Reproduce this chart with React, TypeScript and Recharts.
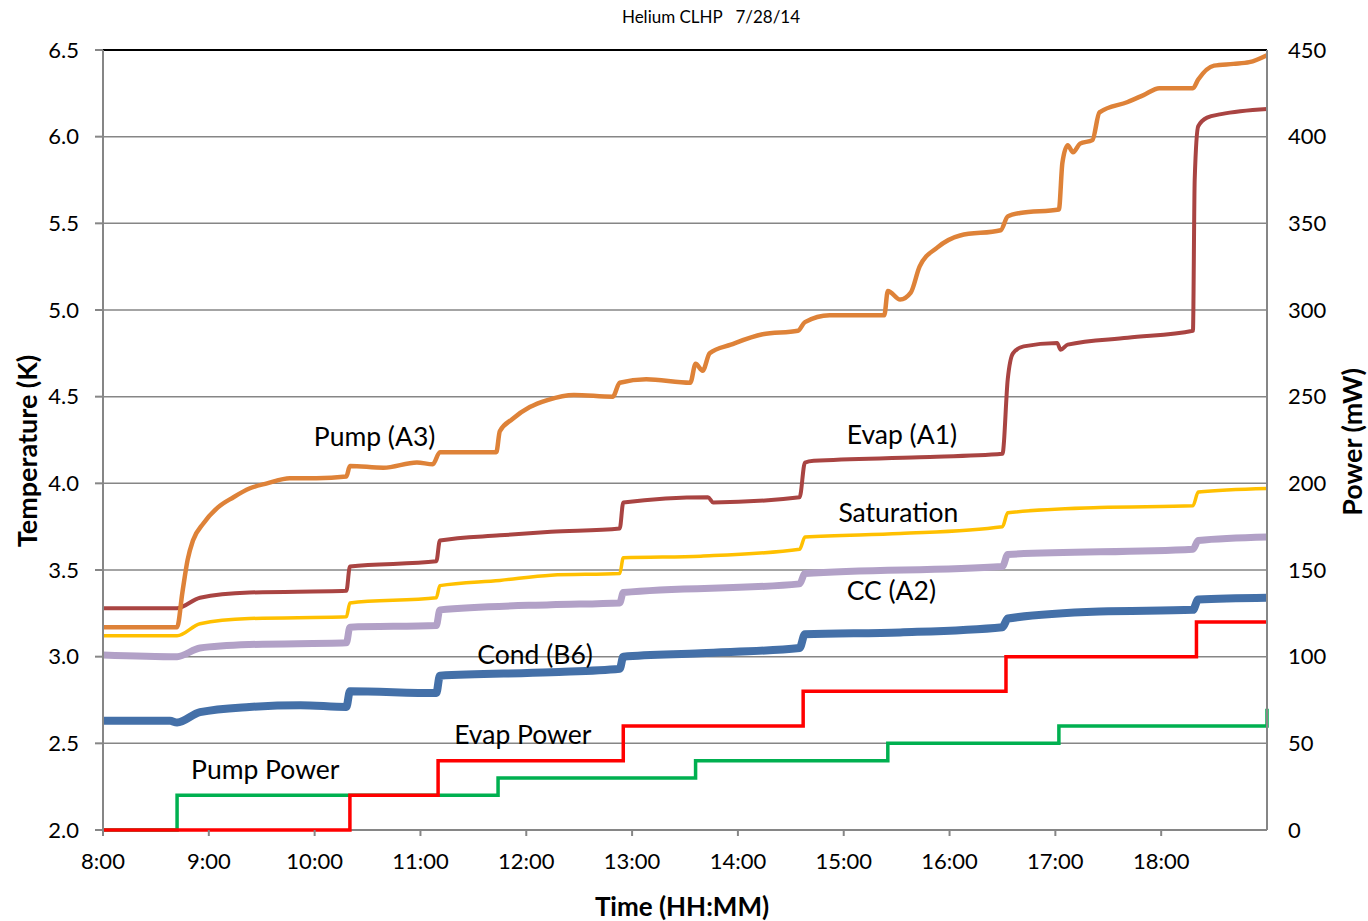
import { CartesianGrid, Line, LineChart, ReferenceDot, ReferenceLine, XAxis, YAxis } from "recharts";

type Row = [string, number];

const hourTicks = [8, 9, 10, 11, 12, 13, 14, 15, 16, 17, 18];
const tempTicks = [2, 2.5, 3, 3.5, 4, 4.5, 5, 5.5, 6, 6.5];
const powerTicks = [0, 50, 100, 150, 200, 250, 300, 350, 400, 450];

// temperatures (K)
const pumpA3: Row[] = [
  ["8:00", 3.17], ["8:42", 3.17], ["8:45", 3.37], ["8:48", 3.56], ["8:51", 3.67],
  ["8:57", 3.77], ["9:05", 3.86], ["9:14", 3.92], ["9:23", 3.97], ["9:33", 4.0],
  ["9:46", 4.03], ["10:01", 4.03], ["10:18", 4.04], ["10:20", 4.1], ["10:39", 4.09],
  ["10:58", 4.12], ["11:07", 4.11], ["11:11", 4.18], ["11:43", 4.18], ["11:45", 4.3],
  ["11:52", 4.37], ["12:02", 4.44], ["12:12", 4.48], ["12:27", 4.51], ["12:49", 4.5],
  ["12:53", 4.58], ["13:08", 4.6], ["13:33", 4.58], ["13:36", 4.69], ["13:40", 4.65],
  ["13:44", 4.75], ["13:56", 4.8], ["14:14", 4.86], ["14:34", 4.88], ["14:38", 4.93],
  ["14:52", 4.97], ["15:23", 4.97], ["15:25", 5.11], ["15:32", 5.06], ["15:38", 5.1],
  ["15:43", 5.25], ["15:53", 5.36], ["16:06", 5.43], ["16:29", 5.46], ["16:33", 5.54],
  ["16:40", 5.56], ["17:02", 5.58], ["17:04", 5.85], ["17:07", 5.95], ["17:10", 5.91],
  ["17:14", 5.96], ["17:21", 5.98], ["17:25", 6.14], ["17:41", 6.2], ["17:50", 6.24],
  ["17:59", 6.28], ["18:18", 6.28], ["18:21", 6.33], ["18:30", 6.41], ["18:41", 6.42],
  ["18:50", 6.43], ["19:00", 6.47],
];

const evapA1: Row[] = [
  ["8:00", 3.28], ["8:42", 3.28], ["8:55", 3.34], ["9:23", 3.37], ["10:18", 3.38],
  ["10:20", 3.52], ["11:09", 3.55], ["11:11", 3.67], ["11:45", 3.7], ["12:14", 3.72],
  ["12:53", 3.74], ["12:55", 3.89], ["13:43", 3.92], ["13:46", 3.89], ["14:35", 3.92],
  ["14:38", 4.12], ["14:43", 4.13], ["15:43", 4.15], ["16:30", 4.17], ["16:33", 4.6],
  ["16:36", 4.75], ["16:42", 4.79], ["17:01", 4.81], ["17:03", 4.77], ["17:07", 4.8],
  ["17:41", 4.84], ["18:18", 4.88], ["18:19", 5.75], ["18:21", 6.06], ["18:26", 6.11],
  ["18:34", 6.13], ["19:00", 6.16],
];

const saturation: Row[] = [
  ["8:00", 3.12], ["8:42", 3.12], ["8:55", 3.19], ["9:23", 3.22], ["10:18", 3.23],
  ["10:20", 3.31], ["11:09", 3.34], ["11:11", 3.41], ["11:45", 3.44], ["12:14", 3.47],
  ["12:53", 3.48], ["12:55", 3.57], ["13:39", 3.58], ["14:35", 3.62], ["14:38", 3.69],
  ["15:32", 3.71], ["16:30", 3.75], ["16:33", 3.83], ["17:25", 3.86], ["18:18", 3.87],
  ["18:21", 3.95], ["19:00", 3.97],
];

const ccA2: Row[] = [
  ["8:00", 3.01], ["8:42", 3.0], ["8:55", 3.05], ["9:23", 3.07], ["10:18", 3.08],
  ["10:20", 3.17], ["11:09", 3.18], ["11:11", 3.27], ["12:14", 3.3], ["12:53", 3.31],
  ["12:55", 3.37], ["14:35", 3.42], ["14:38", 3.48], ["16:30", 3.52], ["16:33", 3.59],
  ["18:18", 3.62], ["18:21", 3.67], ["19:00", 3.69],
];

const condB6: Row[] = [
  ["8:00", 2.63], ["8:38", 2.63], ["8:42", 2.62], ["8:55", 2.68], ["9:23", 2.71],
  ["9:52", 2.72], ["10:18", 2.71], ["10:20", 2.8], ["11:09", 2.79], ["11:11", 2.89],
  ["12:14", 2.91], ["12:53", 2.93], ["12:55", 3.0], ["13:39", 3.02], ["14:35", 3.05],
  ["14:38", 3.13], ["15:32", 3.14], ["16:30", 3.17], ["16:33", 3.22], ["17:25", 3.26],
  ["18:18", 3.27], ["18:21", 3.33], ["19:00", 3.34],
];

// heater powers (mW), stepped
const evapPower: Row[] = [
  ["8:00", 0], ["10:20", 20], ["11:10", 40], ["12:55", 60], ["14:37", 80],
  ["16:32", 100], ["18:20", 120], ["19:00", 120],
];

const pumpPower: Row[] = [
  ["8:00", 0], ["8:42", 20], ["11:44", 30], ["13:36", 40], ["15:25", 50],
  ["17:02", 60], ["19:00", 70],
];

const seriesLabels = [
  { text: "Pump (A3)", time: "10:34", temp: 4.27 },
  { text: "Evap (A1)", time: "15:33", temp: 4.28 },
  { text: "Saturation", time: "15:31", temp: 3.83 },
  { text: "CC (A2)", time: "15:27", temp: 3.38 },
  { text: "Cond (B6)", time: "12:05", temp: 3.01 },
  { text: "Evap Power", time: "11:58", temp: 2.55 },
  { text: "Pump Power", time: "9:32", temp: 2.35 },
];

const toHours = (hm: string) => {
  const [h, m] = hm.split(":").map(Number);
  return h + m / 60;
};
const toPoints = (rows: Row[]) => rows.map(([t, v]) => ({ t: toHours(t), v }));

const FONT = "Lato, 'Open Sans', sans-serif";
const tick = { fontSize: 22, fill: "#000", fontFamily: FONT };
const AXIS = "#868686";

export default function App() {
  return (
    <div style={{ position: "absolute", left: 0, top: 0, width: 1368, height: 921, background: "#fff", fontFamily: FONT }}>
      <div style={{ position: "absolute", left: 511, top: 6, width: 400, textAlign: "center", fontSize: 17, whiteSpace: "pre" }}>
        {"Helium CLHP   7/28/14"}
      </div>
      <LineChart width={1368} height={921} margin={{ top: 50, right: 41, bottom: 51, left: 43 }}>
        <CartesianGrid yAxisId="left" vertical={false} stroke={AXIS} strokeWidth={1.5} />
        <XAxis
          dataKey="t"
          type="number"
          domain={[8, 19]}
          ticks={hourTicks}
          tickFormatter={(v) => `${v}:00`}
          tick={tick}
          axisLine={false}
          tickLine={{ stroke: AXIS, strokeWidth: 2 }}
          tickSize={6}
          tickMargin={17}
          height={40}
        />
        <YAxis
          yAxisId="left"
          type="number"
          domain={[2, 6.5]}
          ticks={tempTicks}
          tickFormatter={(v) => v.toFixed(1)}
          tick={tick}
          stroke={AXIS}
          strokeWidth={2}
          tickSize={8}
          tickMargin={16}
          width={60}
        />
        <YAxis
          yAxisId="right"
          orientation="right"
          type="number"
          domain={[0, 450]}
          ticks={powerTicks}
          tick={{ ...tick, textAnchor: "start" }}
          stroke={AXIS}
          strokeWidth={2}
          tickLine={false}
          tickSize={8}
          tickMargin={13}
          width={60}
        />
        <ReferenceLine yAxisId="left" y={2} stroke={AXIS} strokeWidth={2} />
        <ReferenceLine yAxisId="left" y={6.5} stroke="#000" strokeWidth={2} />
        <Line yAxisId="left" data={toPoints(condB6)} dataKey="v" type="monotone" stroke="#4470A8" strokeWidth={8} dot={false} isAnimationActive={false} />
        <Line yAxisId="left" data={toPoints(ccA2)} dataKey="v" type="monotone" stroke="#B2A1C7" strokeWidth={7} dot={false} isAnimationActive={false} />
        <Line yAxisId="left" data={toPoints(saturation)} dataKey="v" type="monotone" stroke="#FFC000" strokeWidth={3.5} dot={false} isAnimationActive={false} />
        <Line yAxisId="left" data={toPoints(evapA1)} dataKey="v" type="monotone" stroke="#A94442" strokeWidth={4} dot={false} isAnimationActive={false} />
        <Line yAxisId="left" data={toPoints(pumpA3)} dataKey="v" type="monotone" stroke="#DE8238" strokeWidth={4.5} dot={false} isAnimationActive={false} />
        <Line yAxisId="right" data={toPoints(pumpPower)} dataKey="v" type="stepAfter" stroke="#00B050" strokeWidth={3.5} dot={false} isAnimationActive={false} />
        <Line yAxisId="right" data={toPoints(evapPower)} dataKey="v" type="stepAfter" stroke="#FF0000" strokeWidth={3.5} dot={false} isAnimationActive={false} />
        {seriesLabels.map((l) => (
          <ReferenceDot
            key={l.text}
            yAxisId="left"
            x={toHours(l.time)}
            y={l.temp}
            r={0}
            fill="none"
            stroke="none"
            label={{ value: l.text, position: "center", fill: "#000", fontSize: 26.5, fontFamily: FONT }}
          />
        ))}
      </LineChart>
      <div style={{ position: "absolute", left: 26, top: 451, transform: "translate(-50%, -50%) rotate(-90deg)", fontSize: 27, fontWeight: 700, whiteSpace: "nowrap" }}>
        Temperature (K)
      </div>
      <div style={{ position: "absolute", left: 1351, top: 442, transform: "translate(-50%, -50%) rotate(-90deg)", fontSize: 27, fontWeight: 700, whiteSpace: "nowrap" }}>
        Power (mW)
      </div>
      <div style={{ position: "absolute", left: 682, top: 906, transform: "translate(-50%, -50%)", fontSize: 26, fontWeight: 700, whiteSpace: "nowrap" }}>
        Time (HH:MM)
      </div>
    </div>
  );
}
